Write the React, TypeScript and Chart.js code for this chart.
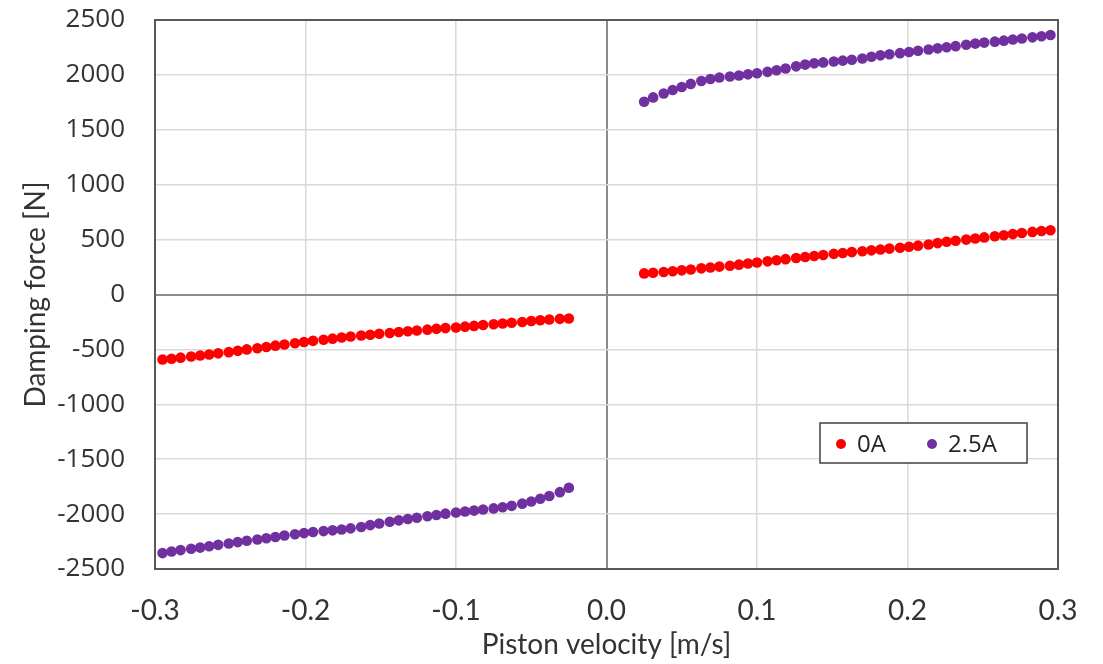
import React, { useEffect, useRef } from "react";
import { Chart, registerables } from "chart.js";

Chart.register(...registerables);

// Piston velocity [m/s]
const velocityPos = [
  0.025, 0.031, 0.038, 0.044, 0.05, 0.056, 0.063, 0.069, 0.075, 0.082, 0.088,
  0.094, 0.1, 0.107, 0.113, 0.119, 0.126, 0.132, 0.138, 0.144, 0.151, 0.157,
  0.163, 0.17, 0.176, 0.182, 0.188, 0.195, 0.201, 0.207, 0.214, 0.22, 0.226,
  0.232, 0.239, 0.245, 0.251, 0.258, 0.264, 0.27, 0.276, 0.283, 0.289, 0.295,
];
const velocityNeg = [
  -0.295, -0.289, -0.283, -0.276, -0.27, -0.264, -0.258, -0.251, -0.245,
  -0.239, -0.232, -0.226, -0.22, -0.214, -0.207, -0.201, -0.195, -0.188,
  -0.182, -0.176, -0.17, -0.163, -0.157, -0.151, -0.144, -0.138, -0.132,
  -0.126, -0.119, -0.113, -0.107, -0.1, -0.094, -0.088, -0.082, -0.075,
  -0.069, -0.063, -0.056, -0.05, -0.044, -0.038, -0.031, -0.025,
];

// Damping force [N], 0A
const force0APos = [
  192, 198, 205, 212, 220, 228, 238, 246, 254, 262, 272, 282, 292, 302, 312,
  322, 332, 342, 350, 360, 370, 378, 386, 394, 402, 410, 418, 426, 435, 445,
  456, 468, 480, 490, 500, 510, 520, 530, 540, 550, 560, 570, 578, 585,
];
const force0ANeg = [
  -592, -585, -575, -565, -556, -546, -536, -525, -512, -500, -490, -478,
  -466, -455, -444, -432, -422, -412, -402, -392, -383, -374, -366, -358,
  -350, -342, -335, -328, -320, -313, -306, -300, -293, -286, -278, -271,
  -264, -257, -250, -242, -234, -228, -222, -218,
];

// Damping force [N], 2.5A
const force25APos = [
  1755, 1795, 1830, 1862, 1890, 1918, 1945, 1962, 1976, 1985, 1995, 2005,
  2015, 2028, 2042, 2058, 2078, 2094, 2105, 2114, 2122, 2130, 2138, 2150,
  2165, 2178, 2188, 2198, 2208, 2220, 2232, 2242, 2252, 2262, 2275, 2285,
  2294, 2303, 2312, 2322, 2332, 2342, 2352, 2364,
];
const force25ANeg = [
  -2355, -2340, -2328, -2316, -2305, -2293, -2280, -2268, -2255, -2243,
  -2232, -2220, -2208, -2195, -2183, -2173, -2163, -2155, -2148, -2140,
  -2130, -2118, -2100, -2085, -2070, -2057, -2045, -2033, -2020, -2008,
  -1996, -1985, -1976, -1968, -1958, -1948, -1937, -1925, -1905, -1885,
  -1860, -1835, -1800, -1760,
];

const seriesLabels = ["0A", "2.5A"];
const seriesColors = ["#ff0000", "#7030a0"];

const xTitle = "Piston velocity [m/s]";
const yTitle = "Damping force [N]";

function toPoints(xs: number[], ys: number[]) {
  return xs.map((x, i) => ({ x, y: ys[i] }));
}

const frameAndLegend = {
  id: "frameAndLegend",
  afterDraw(chart: any) {
    const { ctx, chartArea } = chart;
    ctx.save();
    ctx.strokeStyle = "#595959";
    ctx.lineWidth = 2;
    ctx.strokeRect(
      chartArea.left,
      chartArea.top,
      chartArea.right - chartArea.left,
      chartArea.bottom - chartArea.top
    );
    // legend box
    const bx = 820;
    const by = 423;
    const bw = 207;
    const bh = 40;
    ctx.fillStyle = "#ffffff";
    ctx.fillRect(bx, by, bw, bh);
    ctx.strokeStyle = "#404040";
    ctx.lineWidth = 1.5;
    ctx.strokeRect(bx, by, bw, bh);
    const items = chart.data.datasets;
    const starts = [841, 932];
    ctx.font = "24px 'Open Sans'";
    ctx.textBaseline = "middle";
    items.forEach((ds: any, i: number) => {
      ctx.fillStyle = ds.backgroundColor;
      ctx.beginPath();
      ctx.arc(starts[i], by + bh / 2 + 1, 5, 0, Math.PI * 2);
      ctx.fill();
      ctx.fillStyle = "#262626";
      ctx.fillText(ds.label, starts[i] + 16, by + bh / 2 + 2);
    });
    ctx.restore();
  },
};

function gridColor(ctx: any) {
  return ctx.tick && Math.abs(ctx.tick.value) < 1e-9 ? "#8c8c8c" : "#d9d9d9";
}
function gridWidth(ctx: any) {
  return ctx.tick && Math.abs(ctx.tick.value) < 1e-9 ? 2 : 1.5;
}

export default function App() {
  const canvasRef = useRef<HTMLCanvasElement | null>(null);

  useEffect(() => {
    document.body.style.margin = "0";
    const canvas = canvasRef.current;
    if (!canvas) return;
    const chart = new Chart(canvas, {
      type: "scatter",
      data: {
        datasets: [
          {
            label: seriesLabels[0],
            data: [
              ...toPoints(velocityNeg, force0ANeg),
              ...toPoints(velocityPos, force0APos),
            ],
            backgroundColor: seriesColors[0],
            borderColor: seriesColors[0],
            pointRadius: 5.3,
            pointBorderWidth: 0,
          },
          {
            label: seriesLabels[1],
            data: [
              ...toPoints(velocityNeg, force25ANeg),
              ...toPoints(velocityPos, force25APos),
            ],
            backgroundColor: seriesColors[1],
            borderColor: seriesColors[1],
            pointRadius: 5.3,
            pointBorderWidth: 0,
          },
        ],
      },
      options: {
        animation: false,
        responsive: false,
        layout: { padding: { top: 20, right: 45, bottom: 0, left: 0 } },
        plugins: {
          legend: { display: false },
          tooltip: { enabled: false },
        },
        scales: {
          x: {
            type: "linear",
            min: -0.3,
            max: 0.3,
            afterFit(scale: any) {
              scale.height = 95;
              scale.paddingLeft = 0;
              scale.paddingRight = 0;
            },
            ticks: {
              stepSize: 0.1,
              padding: 25,
              color: "#333333",
              font: { family: "Lato", size: 28 },
              callback: (v: any) =>
                Math.abs(Number(v)) < 1e-9 ? "0.0" : Number(v).toFixed(1),
            },
            grid: { color: gridColor, lineWidth: gridWidth, drawTicks: false },
            border: { display: false },
            title: {
              display: true,
              text: xTitle,
              color: "#333333",
              font: { family: "Lato", size: 28 },
              padding: { top: 0, bottom: 2 },
            },
          },
          y: {
            type: "linear",
            min: -2500,
            max: 2500,
            afterFit(scale: any) {
              scale.width = 155;
              scale.paddingTop = 0;
              scale.paddingBottom = 0;
            },
            ticks: {
              stepSize: 500,
              padding: 30,
              color: "#333333",
              font: { family: "Open Sans", size: 26 },
              callback: (v: any) => String(Math.round(Number(v))),
            },
            grid: { color: gridColor, lineWidth: gridWidth, drawTicks: false },
            border: { display: false },
            title: {
              display: true,
              text: yTitle,
              color: "#333333",
              font: { family: "Lato", size: 28 },
              padding: { top: 19, bottom: 0 },
            },
          },
        },
      },
      plugins: [frameAndLegend],
    });
    return () => chart.destroy();
  }, []);

  return (
    <div style={{ position: "absolute", left: 0, top: 0, width: 1103, height: 664 }}>
      <canvas ref={canvasRef} width={1103} height={664} />
    </div>
  );
}
